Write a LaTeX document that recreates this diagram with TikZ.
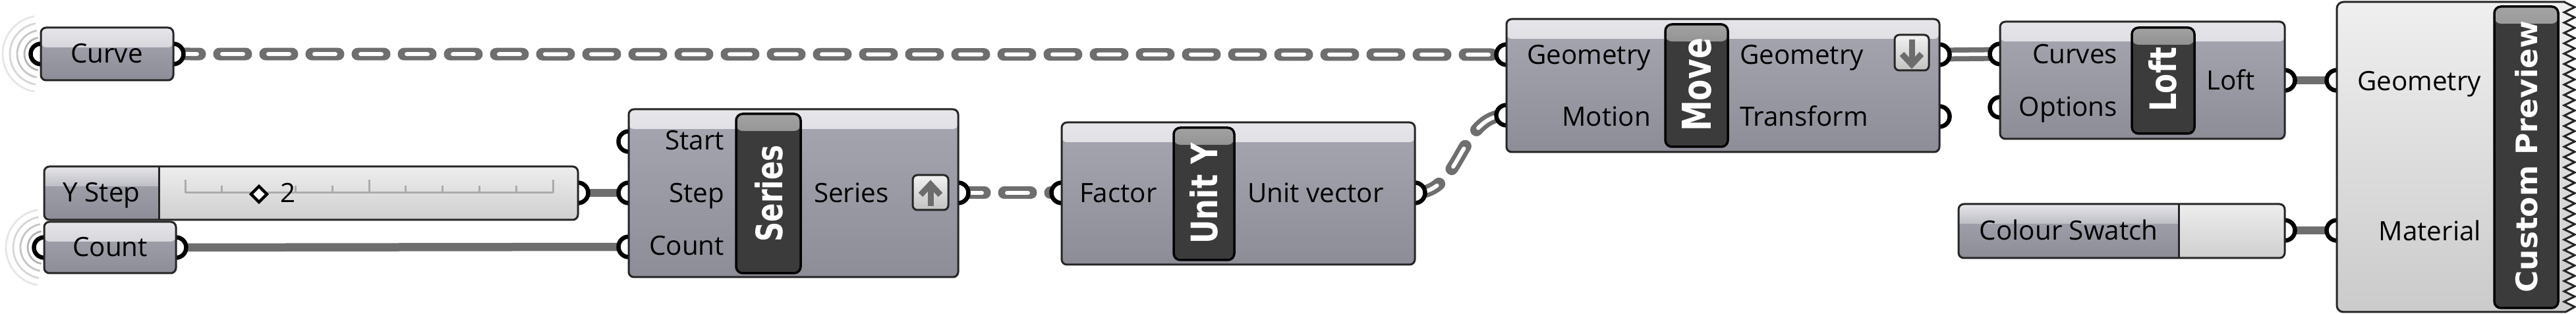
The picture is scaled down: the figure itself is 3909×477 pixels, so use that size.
\documentclass[tikz,border=0pt]{standalone}
\usepackage{fontspec}
\setmainfont{Open Sans}
\newfontfamily\titlefont{DejaVu Sans}
\usetikzlibrary{fit,backgrounds}
\definecolor{wire}{HTML}{6E6E6E}
\definecolor{edge}{HTML}{262626}
\definecolor{bodytop}{HTML}{A7A7B2}
\definecolor{bodybot}{HTML}{8D8D98}
\definecolor{headtop}{HTML}{E6E6EA}
\definecolor{headbot}{HTML}{BDBDC5}
\definecolor{bartop}{HTML}{A2A2A2}
\definecolor{barbody}{HTML}{3B3B3B}
\definecolor{lighttop}{HTML}{EDEDED}
\definecolor{lightbot}{HTML}{CFCFCF}
\definecolor{cptop}{HTML}{EFEFEF}
\definecolor{cpbot}{HTML}{CBCBCB}
\definecolor{icontop}{HTML}{F2F2F2}
\definecolor{iconbot}{HTML}{C2C2C2}
\definecolor{arrowgray}{HTML}{6C6C6C}
\definecolor{tickgray}{HTML}{ABABAB}
\definecolor{ripA}{HTML}{B4B4B4}
\definecolor{ripB}{HTML}{C6C6C6}
\definecolor{ripC}{HTML}{D6D6D6}
\definecolor{ripD}{HTML}{E6E6E6}
\tikzset{
  port/.style={circle, draw=black, line width=0.65mm, fill=white, minimum size=3.1mm, inner sep=0, outer sep=0},
  comp/.style={draw=edge, line width=0.3mm, rounded corners=0.8mm, inner sep=0, outer sep=0,
    top color=bodytop, bottom color=bodybot,
    path picture={\shade[top color=headtop,bottom color=headbot] (path picture bounding box.north west) rectangle ([yshift=-3mm]path picture bounding box.north east);}},
  outline/.style={draw=edge, line width=0.3mm, rounded corners=0.8mm, inner sep=0, outer sep=0},
  titlebar/.style={draw=black, line width=0.35mm, rounded corners=1mm, inner sep=0, outer sep=0, fill=barbody,
    path picture={\shade[top color=bartop,bottom color=barbody] (path picture bounding box.north west) rectangle ([yshift=-2.6mm]path picture bounding box.north east);}},
  icon/.style={draw=edge, line width=0.3mm, rounded corners=0.7mm, inner sep=0, outer sep=0, top color=icontop, bottom color=iconbot},
  title/.style={rotate=90, text=white, inner sep=0, outer sep=0},
  lbl/.style={inner sep=0, outer sep=0},
  wireS/.style={draw=wire, line width=1.25mm},
  wireL/.style={draw=wire, line width=2.1mm, postaction={draw=white, line width=0.55mm}},
  wireD/.style={draw=wire, line width=1.9mm, line cap=round, dash pattern=on 4mm off 3mm,
    postaction={draw=white, line width=0.6mm, line cap=round, dash pattern=on 3.2mm off 3.8mm, dash phase=6.6mm}},
  ripple/.style={line width=0.28mm},
  tick/.style={draw=tickgray, line width=0.3mm},
}
\begin{document}
\begin{tikzpicture}[x=0.1mm, y=-0.1mm, font=\fontsize{11.5}{13}\selectfont]
\useasboundingbox (0,0) rectangle (3909,477);

% ---------- ports (drawn below boxes) ----------
\node[port] (curveI) at (62,82) {};
\node[port] (curveO) at (263,82) {};
\node[port] (ystepO) at (877,293) {};
\node[port] (countI) at (67,376) {};
\node[port] (countO) at (267,376) {};
\node[port] (seriesStart) at (954,215) {};
\node[port] (seriesStep) at (954,293) {};
\node[port] (seriesCount) at (954,375) {};
\node[port] (seriesO) at (1454,293) {};
\node[port] (unityF) at (1611,293) {};
\node[port] (unityO) at (2147,293) {};
\node[port] (moveG) at (2286,83) {};
\node[port] (moveM) at (2286,175) {};
\node[port] (moveGo) at (2943,83) {};
\node[port] (moveT) at (2943,177) {};
\node[port] (loftC) at (3035,82) {};
\node[port] (loftOp) at (3035,163) {};
\node[port] (loftO) at (3467,122) {};
\node[port] (swatchO) at (3467,350) {};
\node[port] (cpG) at (3546,122) {};
\node[port] (cpM) at (3546,350) {};

% ---------- Curve ----------
\node[comp, fit={(62,42) (263,122)}] (curve) {};
\node[lbl, anchor=base] (curveT) at (162,96) {Curve};

% ---------- Y Step slider ----------
\begin{scope}
  \clip[rounded corners=0.8mm] (67,253) rectangle (877,334);
  \shade[top color=bodytop, bottom color=bodybot] (67,253) rectangle (241,334);
  \shade[top color=headtop, bottom color=headbot] (67,253) rectangle (241,283);
  \shade[top color=lighttop, bottom color=lightbot] (241,253) rectangle (877,334);
\end{scope}
\node[outline, fit={(67,253) (877,334)}] (ystep) {};
\draw[edge, line width=0.3mm] (241,253) -- (241,334);
\node[lbl, anchor=base] (ystepT) at (154,307) {Y Step};
\draw[tick] (281,293) -- (839,293);
\foreach \i in {0,...,10} {
  \pgfmathsetmacro\tx{281+55.8*\i}
  \ifnum\i=0 \draw[tick] (\tx,273) -- (\tx,293);
  \else\ifnum\i=5 \draw[tick] (\tx,273) -- (\tx,293);
  \else\ifnum\i=10 \draw[tick] (\tx,273) -- (\tx,293);
  \else \draw[tick] (\tx,282) -- (\tx,293);
  \fi\fi\fi
}
\draw[black, fill=white, line width=0.45mm] (393,283) -- (405,295) -- (393,307) -- (381,295) -- cycle;
\node[lbl, anchor=base west] (ystepV) at (425,308) {2};

% ---------- Count ----------
\node[comp, fit={(67,337) (267,415)}] (count) {};
\node[lbl, anchor=base] (countT) at (167,390) {Count};

% ---------- Series ----------
\node[comp, fit={(954,166) (1454,421)}] (series) {};
\node[titlebar, fit={(1117,173) (1215,415)}] (seriesBar) {};
\node[title] (seriesTitle) at (1167,294) {\resizebox{14.7mm}{4.2mm}{\titlefont\bfseries Series}};
\node[lbl, anchor=base east] (sStartT) at (1099,228) {Start};
\node[lbl, anchor=base east] (sStepT) at (1099,308) {Step};
\node[lbl, anchor=base east] (sCountT) at (1099,388) {Count};
\node[lbl, anchor=base west] (sOutT) at (1235,308) {Series};
\node[icon, fit={(1385,266) (1439,319)}] (seriesIcon) {};
\draw[arrowgray, line width=0.9mm] (1412,313) -- (1412,282);
\draw[arrowgray, line width=0.9mm, line join=miter] (1397,296) -- (1412,280) -- (1427,296);

% ---------- Unit Y ----------
\node[comp, fit={(1611,186) (2147,402)}] (unity) {};
\node[titlebar, fit={(1781,194) (1873,395)}] (unityBar) {};
\node[title] (unityTitle) at (1827,294) {\resizebox{15.3mm}{4.2mm}{\titlefont\bfseries Unit Y}};
\node[lbl, anchor=base west] (uFT) at (1638,308) {Factor};
\node[lbl, anchor=base west] (uVT) at (1893,308) {Unit vector};

% ---------- Move ----------
\node[comp, fit={(2286,29) (2943,231)}] (move) {};
\node[titlebar, fit={(2527,37) (2622,223)}] (moveBar) {};
\node[title] (moveTitle) at (2575,129) {\resizebox{14.2mm}{4.4mm}{\titlefont\bfseries Move}};
\node[lbl, anchor=base east] (mGT) at (2505,98) {Geometry};
\node[lbl, anchor=base east] (mMT) at (2505,192) {Motion};
\node[lbl, anchor=base west] (mGoT) at (2640,98) {Geometry};
\node[lbl, anchor=base west] (mTT) at (2640,192) {Transform};
\node[icon, fit={(2875,53) (2927,107)}] (moveIcon) {};
\draw[arrowgray, line width=0.9mm] (2901,60) -- (2901,91);
\draw[arrowgray, line width=0.9mm, line join=miter] (2886,82) -- (2901,98) -- (2916,82);

% ---------- Loft ----------
\node[comp, fit={(3035,33) (3467,211)}] (loft) {};
\node[titlebar, fit={(3235,42) (3330,203)}] (loftBar) {};
\node[title] (loftTitle) at (3282,121) {\resizebox{9.8mm}{4.2mm}{\titlefont\bfseries Loft}};
\node[lbl, anchor=base east] (lCT) at (3213,97) {Curves};
\node[lbl, anchor=base east] (lOT) at (3213,177) {Options};
\node[lbl, anchor=base west] (lLT) at (3348,137) {Loft};

% ---------- Colour Swatch ----------
\begin{scope}
  \clip[rounded corners=0.8mm] (2972,310) rectangle (3467,392);
  \shade[top color=bodytop, bottom color=bodybot] (2972,310) rectangle (3306,392);
  \shade[top color=headtop, bottom color=headbot] (2972,310) rectangle (3306,340);
  \shade[top color=lighttop, bottom color=lightbot] (3306,310) rectangle (3467,392);
\end{scope}
\node[outline, fit={(2972,310) (3467,392)}] (swatch) {};
\draw[edge, line width=0.3mm] (3306,310) -- (3306,392);
\node[lbl, anchor=base] (swatchT) at (3139,365) {Colour Swatch};

% ---------- Custom Preview ----------
\draw[draw=edge, line width=0.3mm, top color=cptop, bottom color=cpbot]
  (3893,3) [rounded corners=1mm] -- (3546,3) -- (3546,474) [sharp corners] -- (3893,474)
  \foreach \i in {0,...,29} { -- (3907,{474-15.7*\i-7.85}) -- (3891,{474-15.7*(\i+1)}) } -- cycle;
\node[titlebar, fit={(3785,10) (3882,468)}] (cpBar) {};
\node[title] (cpTitle) at (3834,238) {\resizebox{41.3mm}{3.4mm}{\titlefont\bfseries Custom Preview}};
\node[lbl, anchor=base east] (cGT) at (3765,138) {Geometry};
\node[lbl, anchor=base east] (cMT) at (3765,366) {Material};

% ---------- wires and ripples (behind) ----------
\begin{scope}[on background layer]
  \fill[white] (0,0) rectangle (3909,477);
  \foreach \r/\c in {25/ripA, 36/ripB, 47/ripC, 58/ripD} {
    \draw[ripple, \c] (62,82) ++(100:\r) arc[start angle=100, end angle=260, radius=\r];
    \draw[ripple, \c] (67,376) ++(100:\r) arc[start angle=100, end angle=260, radius=\r];
  }
  \draw[wireD] (curveO.center) -- (moveG.center);
  \draw[wireS] (ystepO.center) -- (seriesStep.center);
  \draw[wireS] (countO.center) -- (seriesCount.center);
  \draw[wireD] (seriesO.center) -- (unityF.center);
  \draw[wireD] (unityO.center) to[out=0, in=180] (moveM.center);
  \draw[wireL] (moveGo.center) -- (loftC.center);
  \draw[wireS] (loftO.center) -- (cpG.center);
  \draw[wireS] (swatchO.center) -- (cpM.center);
\end{scope}
\end{tikzpicture}
\end{document}
